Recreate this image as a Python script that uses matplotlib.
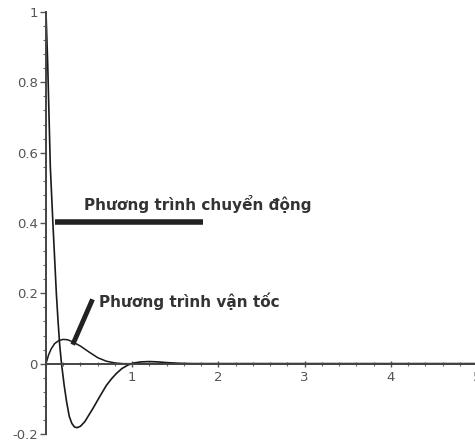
import numpy as np
import matplotlib
matplotlib.use("Agg")
import matplotlib.pyplot as plt
from matplotlib.ticker import MultipleLocator, FixedFormatter, FixedLocator

# motion curve (damped oscillation starting at 1)
t_motion = [0.0, 0.02, 0.05, 0.08, 0.10, 0.12, 0.14, 0.16, 0.18, 0.21, 0.24, 0.27,
            0.30, 0.33, 0.36, 0.40, 0.45, 0.50, 0.55, 0.62, 0.70, 0.76, 0.82, 0.88,
            0.95, 1.02, 1.10, 1.20, 1.30, 1.40, 1.55, 1.70, 2.0, 3.0, 4.0, 5.0]
y_motion = [1.0, 0.85, 0.56, 0.40, 0.30, 0.20, 0.12, 0.05, 0.0, -0.06, -0.11, -0.15,
            -0.17, -0.18, -0.182, -0.178, -0.165, -0.145, -0.125, -0.095, -0.062, -0.043,
            -0.027, -0.014, -0.004, 0.002, 0.005, 0.006, 0.005, 0.003, 0.001, 0.0, 0.0,
            0.0, 0.0, 0.0]

# velocity curve
t_vel = [0.0, 0.03, 0.06, 0.10, 0.15, 0.20, 0.25, 0.30, 0.40, 0.50, 0.60, 0.70,
         0.80, 0.90, 1.0, 2.0, 5.0]
y_vel = [0.0, 0.025, 0.042, 0.057, 0.066, 0.069, 0.068, 0.063, 0.050, 0.033, 0.017,
         0.007, 0.002, 0.0, 0.0, 0.0, 0.0]

x_ticks = [1, 2, 3, 4, 5]
y_ticks = [-0.2, 0, 0.2, 0.4, 0.6, 0.8, 1]
y_ticklabels = ["-0.2", "0", "0.2", "0.4", "0.6", "0.8", "1"]

label_motion = "Phương trình chuyển động"
label_vel = "Phương trình vận tốc"

plt.rcParams["font.family"] = ["DejaVu Sans"]

fig = plt.figure(figsize=(4.75, 4.46), dpi=100)
ax = fig.add_axes([46 / 475, 12 / 446, (477 - 46) / 475, 422 / 446])

ax.plot(t_motion, y_motion, color="#1a1a1a", lw=1.2)
ax.plot(t_vel, y_vel, color="#1a1a1a", lw=1.1)

ax.set_xlim(0, 5.0)
ax.set_ylim(-0.2, 1.0)

for s in ["top", "right"]:
    ax.spines[s].set_visible(False)
ax.spines["bottom"].set_position(("data", 0))
ax.spines["left"].set_position(("data", 0))
ax.spines["left"].set_clip_on(False)
for s in ["left", "bottom"]:
    ax.spines[s].set_color("#444444")
    ax.spines[s].set_linewidth(1.4)

ax.xaxis.set_major_locator(FixedLocator(x_ticks))
ax.xaxis.set_minor_locator(MultipleLocator(0.2))
ax.yaxis.set_major_locator(FixedLocator(y_ticks))
ax.yaxis.set_major_formatter(FixedFormatter(y_ticklabels))
ax.yaxis.set_minor_locator(MultipleLocator(0.04))
ax.tick_params(axis="both", which="major", labelsize=9.5, labelcolor="#555555",
               color="#555555", length=4, width=1.0)
ax.tick_params(axis="both", which="minor", color="#666666", length=2.5, width=0.8)
ax.tick_params(axis="x", which="both", direction="inout")
ax.tick_params(axis="y", which="both", direction="out", pad=2)

# annotation pointers
ax.plot([0.11, 1.82], [0.403, 0.403], color="#222222", lw=4, solid_capstyle="butt")
ax.text(0.44, 0.455, label_motion, fontsize=11, fontweight="bold", color="#333333",
        va="center", ha="left")

ax.plot([0.31, 0.54], [0.054, 0.183], color="#222222", lw=3.5, solid_capstyle="butt")
ax.text(0.62, 0.178, label_vel, fontsize=11, fontweight="bold", color="#333333",
        va="center", ha="left")

fig.savefig("out.png", dpi=100)
